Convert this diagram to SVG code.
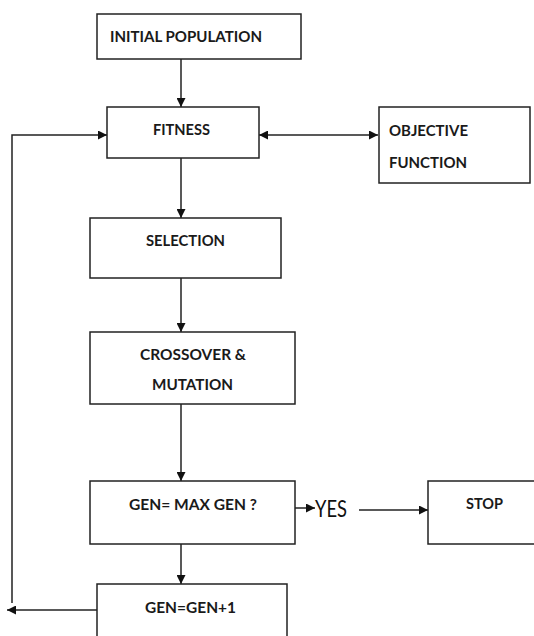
<svg xmlns="http://www.w3.org/2000/svg" width="534" height="636" viewBox="0 0 534 636">
<style>
.box{fill:#fff;stroke:#222;stroke-width:1.5}
.t{font-family:Lato,"Liberation Sans",sans-serif;font-weight:bold;font-size:16px;fill:#1a1a1a}
.c{stroke:#222;stroke-width:1.5;fill:none}
</style>
<defs>
<marker id="ah" viewBox="0 0 10 10" refX="10" refY="5" markerWidth="9" markerHeight="9" markerUnits="userSpaceOnUse" orient="auto-start-reverse">
<path d="M0,0 L10,5 L0,10 z" fill="#111"/>
</marker>
</defs>
<rect width="534" height="636" fill="#fff"/>
<g id="connectors">
<line class="c" x1="181" y1="59" x2="181" y2="107" marker-end="url(#ah)"/>
<line class="c" x1="259" y1="135" x2="378" y2="135" marker-start="url(#ah)" marker-end="url(#ah)"/>
<line class="c" x1="181" y1="158" x2="181" y2="218" marker-end="url(#ah)"/>
<line class="c" x1="181" y1="278" x2="181" y2="332" marker-end="url(#ah)"/>
<line class="c" x1="181" y1="404" x2="181" y2="481" marker-end="url(#ah)"/>
<line class="c" x1="295" y1="508" x2="315" y2="508" marker-end="url(#ah)"/>
<line class="c" x1="359" y1="510" x2="428" y2="510" marker-end="url(#ah)"/>
<line class="c" x1="181" y1="544" x2="181" y2="584" marker-end="url(#ah)"/>
<line class="c" x1="97" y1="610" x2="7" y2="610" marker-end="url(#ah)"/>
<polyline class="c" points="12,603 12,135 107,135" marker-end="url(#ah)"/>
</g>
<g id="initial">
<rect class="box" x="97" y="14" width="204" height="45"/>
<text class="t" x="110" y="42" textLength="152" lengthAdjust="spacingAndGlyphs">INITIAL POPULATION</text>
</g>
<g id="fitness">
<rect class="box" x="107" y="107" width="152" height="51"/>
<text class="t" x="153" y="135" textLength="57" lengthAdjust="spacingAndGlyphs">FITNESS</text>
</g>
<g id="objective">
<rect class="box" x="379" y="107" width="151" height="76"/>
<text class="t" x="389" y="136" textLength="79" lengthAdjust="spacingAndGlyphs">OBJECTIVE</text>
<text class="t" x="389" y="168" textLength="78" lengthAdjust="spacingAndGlyphs">FUNCTION</text>
</g>
<g id="selection">
<rect class="box" x="90" y="218" width="191" height="60"/>
<text class="t" x="146" y="246" textLength="79" lengthAdjust="spacingAndGlyphs">SELECTION</text>
</g>
<g id="crossover">
<rect class="box" x="90" y="332" width="205" height="72"/>
<text class="t" x="140" y="360" textLength="106" lengthAdjust="spacingAndGlyphs">CROSSOVER &amp;</text>
<text class="t" x="152" y="390" textLength="81" lengthAdjust="spacingAndGlyphs">MUTATION</text>
</g>
<g id="check">
<rect class="box" x="90" y="481" width="205" height="63"/>
<text class="t" x="129" y="510" textLength="128" lengthAdjust="spacingAndGlyphs">GEN= MAX GEN ?</text>
</g>
<g id="yes">
<text x="315" y="517" font-family="Lato,'Liberation Sans',sans-serif" font-size="23" fill="#111" textLength="32" lengthAdjust="spacingAndGlyphs">YES</text>
</g>
<g id="stop">
<rect class="box" x="428" y="481" width="112" height="63"/>
<text class="t" x="466" y="509" textLength="37" lengthAdjust="spacingAndGlyphs">STOP</text>
</g>
<g id="increment">
<rect class="box" x="97" y="584" width="190" height="60"/>
<text class="t" x="145" y="613" textLength="91" lengthAdjust="spacingAndGlyphs">GEN=GEN+1</text>
</g>
</svg>
